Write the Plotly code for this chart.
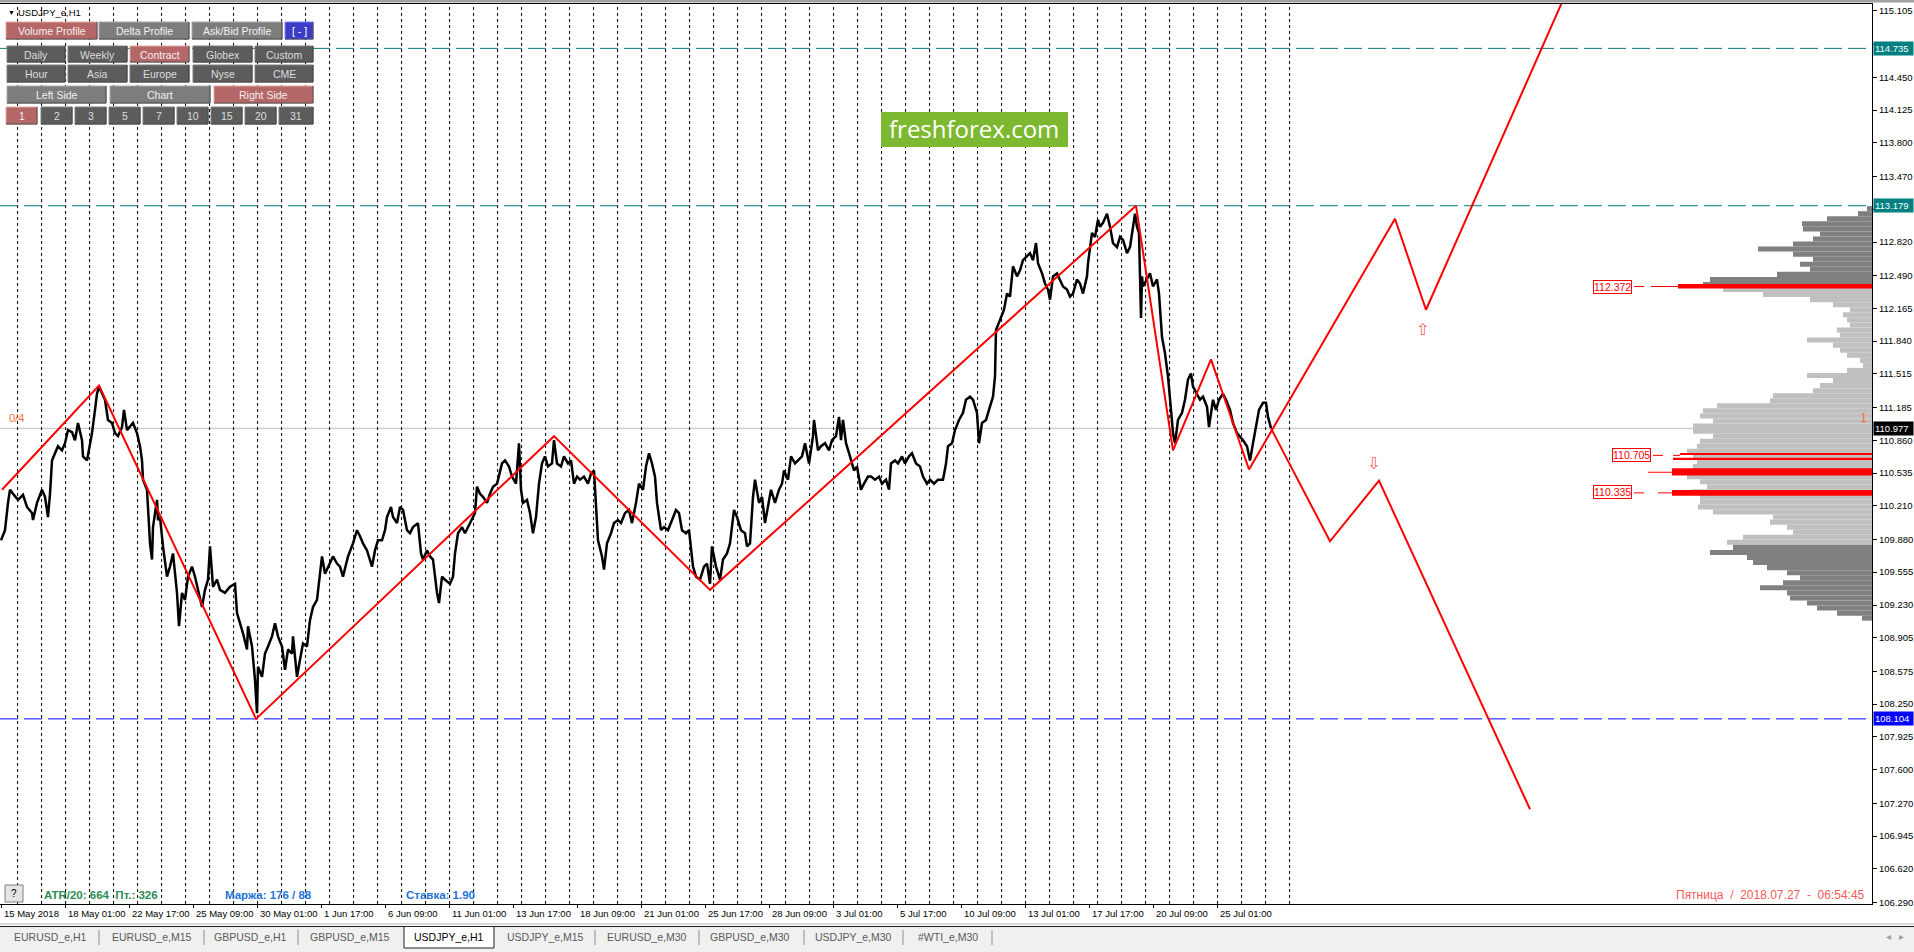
import plotly.graph_objects as go

W, H = 1914, 952
PANE_R = 1872            # right edge of the price pane (px, = last x unit)
PANE_T, PANE_B = 4, 904  # top / bottom of the price pane (px)
Y_TOP, Y_BOT = 115.174, 106.273

FONT = "Liberation Sans"


def fx(px):
    return px / W


def fy(py):
    return 1 - py / H


# ---------------- price data: x = bar number (H1), p = price ----------------
bar_x = [1, 5, 8, 10, 13, 18, 23, 27, 32, 33, 37, 42, 45, 48, 50, 52, 55, 58, 62, 65,
         68, 72, 75, 78, 82, 83, 87, 89, 92, 95, 97, 99, 102, 105, 108, 112, 115, 118, 122, 124,
         127, 130, 133, 137, 140, 142, 143, 147, 150, 152, 153, 157, 158, 160, 163, 167, 170, 173, 177, 179,
         182, 185, 188, 192, 195, 198, 202, 205, 208, 210, 213, 217, 220, 225, 230, 235, 237, 240, 243, 247,
         248, 252, 255, 257, 258, 262, 265, 268, 272, 275, 278, 282, 285, 288, 292, 293, 297, 300, 303, 307,
         310, 313, 317, 320, 322, 325, 328, 333, 337, 340, 343, 348, 353, 357, 360, 363, 367, 372, 375, 378,
         382, 385, 387, 391, 393, 397, 400, 403, 407, 410, 413, 418, 421, 423, 427, 430, 433, 437, 439, 442,
         445, 450, 453, 455, 458, 462, 465, 468, 472, 475, 477, 480, 483, 487, 490, 493, 497, 499,
         502, 505, 509, 512, 516, 519, 521, 523, 527, 530, 533, 536, 539, 542, 545, 548, 552, 554, 557, 561,
         564, 568, 571, 574, 577, 580, 584, 588, 591, 594, 596, 598, 602, 604, 607, 611, 614, 618, 621, 625,
         629, 632, 636, 639, 643, 646, 649, 652, 655, 657, 661, 664, 668, 671, 676, 679, 682, 686, 689, 693,
         696, 700, 704, 707, 710, 712, 716, 720, 723, 727, 730, 734, 737, 741, 745, 747, 750, 753, 755, 759,
         762, 765, 768, 771, 775, 779, 782, 784, 788, 791, 795, 798, 802, 805, 809, 813, 814, 818, 821, 825,
         829, 832, 836, 839, 841, 843, 846, 850, 854, 857, 861, 864, 868, 871, 875, 879, 882, 886, 889, 891,
         895, 898, 902, 905, 909, 912, 916, 920, 923, 927, 930, 934, 938, 943, 946, 948, 952, 955, 959, 963,
         966, 970, 973, 977, 979, 982, 986, 989, 993, 995, 996, 1000, 1004, 1007, 1010,
         1013, 1017, 1020, 1023, 1027, 1030, 1033, 1036, 1038, 1042, 1045, 1048, 1050, 1053, 1057, 1060, 1063, 1067, 1070, 1073,
         1077, 1080, 1083, 1087, 1088, 1092, 1095, 1098, 1100, 1103, 1107, 1110, 1113, 1117, 1120, 1123, 1127, 1130, 1133, 1135,
         1137, 1139, 1141, 1142, 1143, 1147, 1150, 1153, 1157, 1159, 1162, 1165, 1168, 1171, 1173, 1175, 1178, 1182, 1185, 1188,
         1191, 1193, 1197, 1200, 1203, 1207, 1209, 1213, 1216, 1219, 1223, 1226, 1230, 1233, 1237, 1240, 1243, 1247, 1250, 1253,
         1257, 1259, 1263, 1266, 1268, 1271]
bar_p = [109.87, 109.97, 110.24, 110.37, 110.33, 110.27, 110.32, 110.20, 110.14, 110.07, 110.24, 110.37, 110.30, 110.10, 110.33, 110.66, 110.73, 110.80, 110.76, 110.83,
         110.96, 110.94, 110.86, 111.03, 110.86, 110.70, 110.66, 110.76, 110.93, 111.16, 111.32, 111.39, 111.32, 111.26, 111.06, 111.03, 110.93, 110.90, 110.99, 111.16,
         110.96, 110.99, 111.03, 110.93, 110.80, 110.66, 110.47, 110.37, 109.84, 109.68, 110.00, 110.27, 110.07, 110.10, 109.81, 109.51, 109.61, 109.74, 109.35, 109.02,
         109.35, 109.28, 109.51, 109.61, 109.51, 109.38, 109.21, 109.38, 109.48, 109.81, 109.41, 109.48, 109.38, 109.35, 109.41, 109.44, 109.15, 109.05, 108.95, 108.79,
         109.02, 108.82, 108.49, 108.16, 108.62, 108.52, 108.75, 108.82, 108.92, 109.05, 108.92, 108.82, 108.59, 108.79, 108.75, 108.92, 108.52, 108.69, 108.85, 108.82,
         109.08, 109.21, 109.28, 109.54, 109.71, 109.54, 109.61, 109.71, 109.64, 109.61, 109.51, 109.71, 109.84, 109.97, 109.91, 109.84, 109.77, 109.61, 109.77, 109.87,
         109.87, 109.97, 110.10, 110.20, 110.10, 110.04, 110.20, 110.17, 109.97, 109.94, 110.00, 110.04, 109.74, 109.68, 109.77, 109.71, 109.68, 109.35, 109.25, 109.51,
         109.48, 109.44, 109.51, 109.74, 109.94, 110.00, 109.94, 110.00, 110.07, 110.14, 110.40, 110.33, 110.30, 110.24, 110.33, 110.40, 110.43, 110.50,
         110.63, 110.66, 110.60, 110.50, 110.43, 110.83, 110.37, 110.24, 110.27, 110.14, 109.94, 110.10, 110.43, 110.63, 110.70, 110.60, 110.63, 110.86, 110.63, 110.60,
         110.70, 110.63, 110.66, 110.43, 110.50, 110.47, 110.50, 110.43, 110.53, 110.56, 110.24, 109.87, 109.71, 109.58, 109.84, 109.94, 110.04, 110.07, 110.04, 110.14,
         110.17, 110.04, 110.24, 110.43, 110.37, 110.60, 110.73, 110.63, 110.50, 110.24, 109.97, 110.00, 109.97, 110.04, 110.17, 110.14, 109.97, 109.94, 109.97, 109.61,
         109.51, 109.48, 109.61, 109.64, 109.44, 109.81, 109.61, 109.48, 109.68, 109.74, 109.84, 110.17, 110.10, 109.97, 109.94, 109.81, 109.84, 110.30, 110.47, 110.24,
         110.30, 110.04, 110.20, 110.37, 110.24, 110.37, 110.43, 110.56, 110.47, 110.70, 110.63, 110.66, 110.70, 110.83, 110.63, 110.90, 111.06, 110.76, 110.80, 110.83,
         110.76, 110.86, 110.90, 111.09, 110.86, 111.06, 110.83, 110.70, 110.56, 110.60, 110.37, 110.43, 110.50, 110.50, 110.47, 110.50, 110.43, 110.47, 110.37, 110.63,
         110.66, 110.63, 110.70, 110.63, 110.70, 110.73, 110.63, 110.60, 110.50, 110.43, 110.47, 110.43, 110.47, 110.47, 110.63, 110.80, 110.83, 110.96, 111.06, 111.13,
         111.26, 111.29, 111.26, 111.13, 110.83, 111.03, 111.06, 111.16, 111.29, 111.49, 111.95, 112.05, 112.15, 112.31, 112.28,
         112.58, 112.48, 112.54, 112.64, 112.68, 112.71, 112.64, 112.81, 112.61, 112.51, 112.41, 112.35, 112.25, 112.48, 112.51, 112.45, 112.38, 112.35, 112.28, 112.31,
         112.45, 112.41, 112.31, 112.48, 112.61, 112.91, 112.87, 113.04, 112.97, 113.01, 113.10, 112.97, 112.81, 112.77, 112.87, 112.84, 112.71, 112.77, 112.97, 113.10,
         112.97, 112.91, 112.07, 112.48, 112.38, 112.45, 112.51, 112.38, 112.45, 112.31, 111.88, 111.72, 111.49, 111.16, 110.93, 110.83, 111.06, 111.13, 111.26, 111.46,
         111.52, 111.39, 111.32, 111.26, 111.29, 111.19, 110.99, 111.26, 111.16, 111.26, 111.32, 111.26, 111.16, 111.03, 110.93, 110.90, 110.86, 110.80, 110.66, 110.83,
         111.06, 111.16, 111.23, 111.23, 111.09, 110.98]

# zigzag pivots and the two projected paths
zz_x = [2, 99, 256, 554, 710, 1136, 1173, 1211, 1249]
zz_p = [110.37, 111.40, 108.104, 110.90, 109.38, 113.179, 110.76, 111.66, 110.57]
up_x = [1249, 1395, 1426, 1600]
up_p = [110.57, 113.05, 112.15, 116.04]
dn_x = [1271, 1330, 1379, 1530]
dn_p = [110.977, 109.86, 110.46, 107.21]
arrow_up = (1422, 111.95)
arrow_dn = (1373, 110.63)

# horizontal levels
teal_levels = [114.735, 113.179]
blue_level = 108.104
last_price = 110.977

# volume profile (price level -> bar length in px from the right edge)
prof_p = [113.15, 113.10, 113.05, 113.00, 112.95, 112.90, 112.85, 112.80, 112.75, 112.70,
          112.65, 112.60, 112.55, 112.50, 112.45, 112.40, 112.35, 112.30, 112.25, 112.20,
          112.15, 112.10, 112.05, 112.00, 111.95, 111.90, 111.85, 111.80, 111.75, 111.70,
          111.65, 111.60, 111.55, 111.50, 111.45, 111.40, 111.35, 111.30, 111.25, 111.20,
          111.15, 111.10, 111.05, 111.00, 110.95, 110.90, 110.85, 110.80, 110.75, 110.70,
          110.65, 110.60, 110.55, 110.50, 110.45, 110.40, 110.35, 110.30, 110.25, 110.20,
          110.15, 110.10, 110.05, 110.00, 109.95, 109.90, 109.85, 109.80, 109.75, 109.70,
          109.65, 109.60, 109.55, 109.50, 109.45, 109.40, 109.35, 109.30, 109.25, 109.20,
          109.15, 109.10]
prof_len = [5, 14, 45, 70, 69, 52, 59, 79, 114, 79,
            59, 72, 62, 95, 162, 169, 149, 109, 62, 39,
            22, 29, 25, 22, 35, 32, 65, 39, 32, 25,
            12, 9, 25, 65, 39, 52, 59, 99, 102, 155,
            169, 172, 159, 179, 179, 159, 172, 175, 185, 179,
            175, 179, 190, 185, 172, 165, 180, 172, 172, 174,
            159, 99, 102, 85, 79, 129, 145, 139, 162, 125,
            119, 105, 85, 72, 89, 112, 85, 82, 65, 55,
            35, 10]
va_low, va_high = 109.84, 112.352

# high-volume levels drawn in red: price, length, thickness
red_p = [112.382, 110.72, 110.68, 110.547, 110.339]
red_len = [194, 192, 199, 200, 200]
red_h = [0.045, 0.012, 0.012, 0.07, 0.056]
red_labels = ["112.372", "110.705", "110.335"]
red_label_p = [112.380, 110.71, 110.343]
red_label_x = [1612, 1631, 1612]
leader_segs = [(1634, 1644, 112.38), (1651, 1678, 112.38), (1653, 1663, 110.71), (1673, 1680, 110.71),
               (1648, 1672, 110.543), (1634, 1644, 110.339), (1658, 1672, 110.339)]

# axes
y_ticks = [115.105, 114.775, 114.450, 114.125, 113.800, 113.470, 113.145, 112.820, 112.490, 112.165,
           111.840, 111.515, 111.185, 110.860, 110.535, 110.210, 109.880, 109.555, 109.230, 108.905,
           108.575, 108.250, 107.925, 107.600, 107.270, 106.945, 106.620, 106.290]
hidden_ticks = [114.775, 113.145]   # covered by the level markers on the scale
date_pos = [1, 65, 129, 193, 257, 321, 385, 449, 513, 577, 641, 705, 769, 833, 897, 961, 1025, 1089, 1153, 1217]
date_txt = ["15 May 2018", "18 May 01:00", "22 May 17:00", "25 May 09:00", "30 May 01:00", "1 Jun 17:00",
            "6 Jun 09:00", "11 Jun 01:00", "13 Jun 17:00", "18 Jun 09:00", "21 Jun 01:00", "25 Jun 17:00",
            "28 Jun 09:00", "3 Jul 01:00", "5 Jul 17:00", "10 Jul 09:00", "13 Jul 01:00", "17 Jul 17:00",
            "20 Jul 09:00", "25 Jul 01:00"]
first_sep, n_days, bars_per_day = 17.6, 54, 24

tabs = ["EURUSD_e,H1", "EURUSD_e,M15", "GBPUSD_e,H1", "GBPUSD_e,M15", "USDJPY_e,H1", "USDJPY_e,M15",
        "EURUSD_e,M30", "GBPUSD_e,M30", "USDJPY_e,M30", "#WTI_e,M30"]
tab_cx = [50, 152, 250, 350, 449, 545, 647, 750, 853, 948]
tab_sep = [99, 204, 298, 595, 699, 804, 903, 992]
active_tab = 4

fig = go.Figure()

# period separators
sep_x, sep_y = [], []
for k in range(n_days):
    xs = first_sep + k * bars_per_day
    sep_x += [xs, xs, None]
    sep_y += [Y_BOT, Y_TOP, None]
fig.add_trace(go.Scatter(x=sep_x, y=sep_y, mode="lines", hoverinfo="skip",
                         line=dict(color="black", width=1, dash="3px,3px")))

# volume profile
prof_col = ["#c0c0c0" if va_low <= p <= va_high else "#808080" for p in prof_p]
fig.add_trace(go.Bar(y=prof_p, x=[-v for v in prof_len], base=PANE_R, orientation="h",
                     width=0.05, marker=dict(color=prof_col, line=dict(width=0))))
fig.add_trace(go.Bar(y=red_p, x=[-v for v in red_len], base=PANE_R, orientation="h",
                     width=red_h, marker=dict(color="#ff0000", line=dict(width=0))))

lx, ly = [], []
for a, b, p in leader_segs:
    lx += [a, b, None]
    ly += [p, p, None]
fig.add_trace(go.Scatter(x=lx, y=ly, mode="lines", line=dict(color="#ff0000", width=1), hoverinfo="skip"))

# price
fig.add_trace(go.Scatter(x=bar_x, y=bar_p, mode="lines", line=dict(color="black", width=2.5)))

# zigzag + projections
for xs, ps in [(zz_x, zz_p), (up_x, up_p), (dn_x, dn_p)]:
    fig.add_trace(go.Scatter(x=xs, y=ps, mode="lines", line=dict(color="#ff0000", width=2)))

shapes = []
for lv in teal_levels:
    shapes.append(dict(type="line", xref="x", yref="y", x0=0, x1=PANE_R, y0=lv, y1=lv, layer="below",
                       line=dict(color="#008080", width=1, dash="18px,6px")))
shapes.append(dict(type="line", xref="x", yref="y", x0=0, x1=PANE_R, y0=blue_level, y1=blue_level,
                   layer="below", line=dict(color="#0000ff", width=1, dash="18px,6px")))
shapes.append(dict(type="line", xref="x", yref="y", x0=0, x1=PANE_R, y0=last_price, y1=last_price,
                   layer="below", line=dict(color="#c0c0c0", width=1)))

# window frame bits
shapes.append(dict(type="rect", xref="paper", yref="paper", x0=0, x1=1, y0=fy(2.5), y1=1,
                   fillcolor="#a0a0a0", line=dict(width=0)))
shapes.append(dict(type="rect", xref="paper", yref="paper", x0=0, x1=1, y0=0, y1=fy(926),
                   fillcolor="#f0f0f0", line=dict(width=0)))
shapes.append(dict(type="line", xref="paper", yref="paper", x0=0, x1=1, y0=fy(924), y1=fy(924),
                   line=dict(color="#d8d8d8", width=2)))
shapes.append(dict(type="line", xref="paper", yref="paper", x0=0, x1=1, y0=fy(926.5), y1=fy(926.5),
                   line=dict(color="#202020", width=1)))

annotations = []


def label(x, y, text, size=9, color="black", anchor="left", family=FONT, **kw):
    annotations.append(dict(x=fx(x), y=fy(y), xref="paper", yref="paper", text=text, showarrow=False,
                            xanchor=anchor, yanchor="middle", font=dict(family=family, size=size, color=color), **kw))


# tabs
for i, (t, cx) in enumerate(zip(tabs, tab_cx)):
    if i == active_tab:
        shapes.append(dict(type="rect", xref="paper", yref="paper", x0=fx(404), x1=fx(494), y0=fy(948), y1=fy(926.5),
                           fillcolor="white", line=dict(color="#202020", width=1)))
    label(cx, 937, t, size=10.5, color="black" if i == active_tab else "#5a5a5a", anchor="center")
for sx in tab_sep:
    shapes.append(dict(type="line", xref="paper", yref="paper", x0=fx(sx), x1=fx(sx), y0=fy(930), y1=fy(945),
                       line=dict(color="#909090", width=1)))
label(1895, 936, "◂   ▸", size=10, color="#a0a0a0", anchor="center")

# chart control buttons
BTN = {"rose": ("#b56767", "#e6a8a8", "#f6eeee"), "grey": ("#7d7d7d", "#a9a9a9", "#f2f2f2"),
       "dark": ("#5c5c5c", "#7e7e7e", "#dcdcdc"), "blue": ("#3c3cc6", "#8080ff", "#ffffff")}
buttons = [
    ("Volume Profile", 6, 97, 22, 39, "rose"), ("Delta Profile", 99, 189, 22, 39, "grey"),
    ("Ask/Bid Profile", 192, 282, 22, 39, "grey"), ("[ - ]", 285, 313, 22, 39, "blue"),
    ("Daily", 7, 65, 46, 62, "dark"), ("Weekly", 68, 127, 46, 62, "dark"), ("Contract", 130, 189, 46, 62, "rose"),
    ("Globex", 193, 252, 46, 62, "dark"), ("Custom", 255, 313, 46, 62, "dark"),
    ("Hour", 7, 65, 65, 82, "dark"), ("Asia", 68, 127, 65, 82, "dark"), ("Europe", 130, 189, 65, 82, "dark"),
    ("Nyse", 193, 252, 65, 82, "dark"), ("CME", 255, 313, 65, 82, "dark"),
    ("Left Side", 7, 106, 86, 103, "grey"), ("Chart", 110, 210, 86, 103, "grey"),
    ("Right Side", 214, 313, 86, 103, "rose"),
]
num_btn = ["1", "2", "3", "5", "7", "10", "15", "20", "31"]
num_x = [(6, 37), (41, 72), (75, 106), (109, 140), (143, 174), (177, 208), (211, 242), (245, 276), (279, 313)]
for t, (a, b) in zip(num_btn, num_x):
    buttons.append((t, a, b, 107, 124, "rose" if t == "1" else "dark"))
for t, x0, x1, y0, y1, st in buttons:
    fill, edge, tc = BTN[st]
    shapes.append(dict(type="rect", xref="paper", yref="paper", x0=fx(x0), x1=fx(x1), y0=fy(y1), y1=fy(y0),
                       fillcolor=fill, line=dict(color=edge, width=1), layer="above"))
    shapes.append(dict(type="path", xref="paper", yref="paper", layer="above",
                       path=f"M {fx(x0)},{fy(y1)} L {fx(x1)},{fy(y1)} L {fx(x1)},{fy(y0)}",
                       line=dict(color="#383838", width=1)))
    label((x0 + x1) / 2, (y0 + y1) / 2 + 0.5, t, size=10.5, color=tc, anchor="center")

label(6, 12.5, "▼", size=7)
label(16, 12.5, "USDJPY_e,H1", size=9.5)

# logo
shapes.append(dict(type="rect", xref="paper", yref="paper", x0=fx(881), x1=fx(1068), y0=fy(147), y1=fy(112),
                   fillcolor="#7cb830", line=dict(width=0), layer="above"))
label(974.5, 129, "freshforex.com", size=24, color="white", anchor="center", family="Open Sans")

# bottom-left info
shapes.append(dict(type="rect", xref="paper", yref="paper", x0=fx(5), x1=fx(23), y0=fy(902), y1=fy(885),
                   fillcolor="#e4e4e4", line=dict(color="#808080", width=1), layer="above"))
label(14, 893.5, "?", size=10, anchor="center")
label(42, 895, "<b>ATR/20: 664  Пт.: 326</b>", size=11.5, color="#2e8b57")
label(223, 895, "<b>Маржа: 176 / 88</b>", size=11.5, color="#1f74d6")
label(404, 895, "<b>Ставка: 1.90</b>", size=11.5, color="#1f74d6")
label(1867, 895, "Пятница  /  2018.07.27  -  06:54:45", size=12, color="#f55a5a", anchor="right")

# date labels
for xp, t in zip(date_pos, date_txt):
    annotations.append(dict(x=xp + 1, y=fy(913.5), xref="x", yref="paper", text=t, showarrow=False,
                            xanchor="left", yanchor="middle", font=dict(family=FONT, size=9.5, color="black")))

# highlighted price labels on the right scale
for txt, p, bg in [("114.735", 114.735, "#008080"), ("113.179", 113.179, "#008080"),
                   ("110.977", last_price, "#000000"), ("108.104", blue_level, "#0000ff")]:
    annotations.append(dict(x=fx(1873), y=p, xref="paper", yref="y", text=txt, showarrow=False, xanchor="left",
                            yanchor="middle", bgcolor=bg, borderpad=1, width=37, align="left",
                            font=dict(family=FONT, size=9.5, color="white")))

# red level labels
for t, p, xc in zip(red_labels, red_label_p, red_label_x):
    annotations.append(dict(x=xc, y=p, xref="x", yref="y", text=t, showarrow=False, xanchor="center",
                            yanchor="middle", bgcolor="white", bordercolor="#ff0000", borderwidth=1, borderpad=0,
                            font=dict(family=FONT, size=10.5, color="#ff0000")))

# arrows and counters
for (ax, ap), ch in [(arrow_up, "⇧"), (arrow_dn, "⇩")]:
    annotations.append(dict(x=ax, y=ap, xref="x", yref="y", text=ch, showarrow=False,
                            font=dict(family="DejaVu Sans", size=16, color="#ff5a5a")))
annotations.append(dict(x=7, y=111.08, xref="x", yref="y", text="0/4", showarrow=False, xanchor="left",
                        font=dict(family=FONT, size=11, color="#ff7040")))
annotations.append(dict(x=1863, y=111.08, xref="x", yref="y", text="1", showarrow=False, xanchor="center",
                        font=dict(family=FONT, size=13, color="#ff7040")))

fig.update_layout(
    width=W, height=H, template="none", showlegend=False, barmode="overlay",
    margin=dict(l=0, r=0, t=0, b=0), paper_bgcolor="white", plot_bgcolor="white",
    shapes=shapes, annotations=annotations,
    xaxis=dict(domain=[0, fx(PANE_R)], range=[0, PANE_R], showgrid=False, zeroline=False,
               showline=True, linecolor="black", linewidth=1, mirror=True,
               tickvals=date_pos, showticklabels=False, ticks="outside", ticklen=3, tickcolor="black",
               automargin=False, fixedrange=True),
    yaxis=dict(domain=[fy(PANE_B), fy(PANE_T)], range=[Y_BOT, Y_TOP], side="right", showgrid=False,
               zeroline=False, showline=True, linecolor="black", linewidth=1, mirror=True,
               tickvals=y_ticks,
               ticktext=["" if v in hidden_ticks else f"{v:.3f}" for v in y_ticks],
               ticks="outside", ticklen=4,
               tickcolor="black", tickfont=dict(family=FONT, size=9.5, color="black"),
               automargin=False, fixedrange=True),
)

# the page's default body margin would push the fixed-size figure off the window
fig.write_html("out.html", config={"displayModeBar": False},
               post_script="document.body.style.margin='0px';document.body.style.overflow='hidden';")
